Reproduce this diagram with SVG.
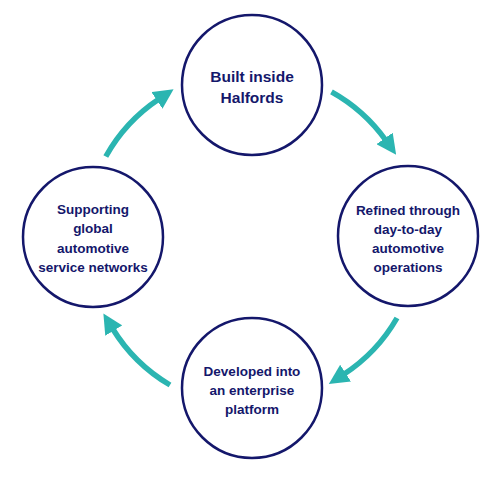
<svg xmlns="http://www.w3.org/2000/svg" width="500" height="500" viewBox="0 0 500 500">
<style>
.node circle{fill:#fff;stroke:#14176b;stroke-width:2.5}
.node text{font-family:"Liberation Sans",Arial,sans-serif;font-weight:bold;fill:#14176b;text-anchor:middle;font-size:13.5px}
.node text.big{font-size:15.5px}
.arr{fill:none;stroke:#2bb5b1;stroke-width:5.5;marker-end:url(#ah)}
</style>
<defs>
<marker id="ah" markerUnits="userSpaceOnUse" markerWidth="20" markerHeight="20" viewBox="0 0 16 16" refX="2" refY="8" orient="auto">
<path d="M0,0 L16,8 L0,16 z" fill="#2bb5b1"/>
</marker>
</defs>
<rect width="500" height="500" fill="#fff"/>
<g id="connectors">
<path class="arr" d="M331.5,91.8 A166,166 0 0 1 386,140.5"/>
<path class="arr" d="M397,318 A166,166 0 0 1 343.5,374.5"/>
<path class="arr" d="M170,385 A166,166 0 0 1 112.5,328.5"/>
<path class="arr" d="M105.8,156.5 A166,166 0 0 1 159,99"/>
</g>
<g id="n1" class="node">
<circle cx="252" cy="85" r="70"/>
<text class="big" x="252" y="82">Built inside</text>
<text class="big" x="252" y="103">Halfords</text>
</g>
<g id="n2" class="node">
<circle cx="408" cy="236" r="70"/>
<text x="408" y="215">Refined through</text>
<text x="408" y="234">day-to-day</text>
<text x="408" y="253">automotive</text>
<text x="408" y="272">operations</text>
</g>
<g id="n3" class="node">
<circle cx="252" cy="388" r="70"/>
<text x="252" y="376">Developed into</text>
<text x="252" y="395">an enterprise</text>
<text x="252" y="414">platform</text>
</g>
<g id="n4" class="node">
<circle cx="93" cy="237" r="70"/>
<text x="93" y="214">Supporting</text>
<text x="93" y="233">global</text>
<text x="93" y="253">automotive</text>
<text x="93" y="272">service networks</text>
</g>
</svg>
